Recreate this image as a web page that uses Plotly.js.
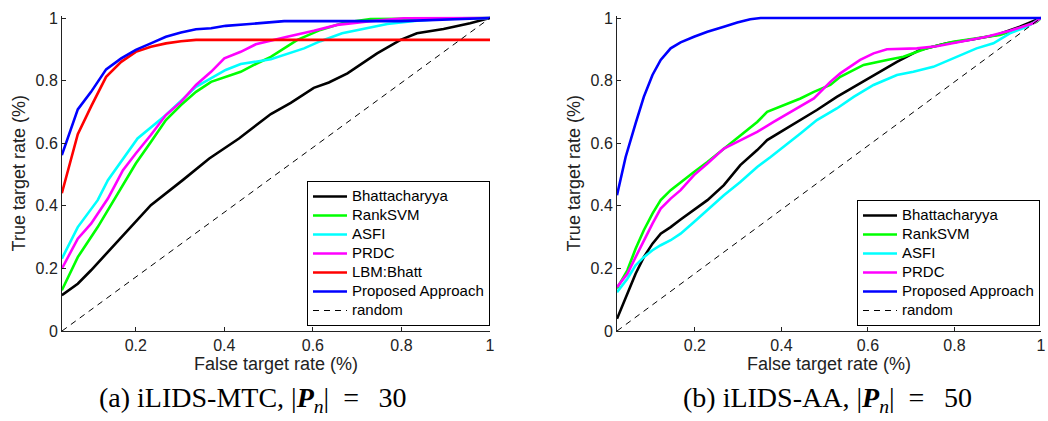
<!DOCTYPE html>
<html>
<head>
<meta charset="utf-8">
<script src="https://cdn.plot.ly/plotly-3.0.1.min.js"></script>
<style>html,body{margin:0;padding:0;background:#fff;}#chart{width:1048px;height:421px;}</style>
</head>
<body>
<div id="chart"></div>
<script>
// ---------- (a) iLIDS-MTC, |Pn| = 30 ----------
const mtcBhattX = [0.033,0.069,0.099,0.137,0.174,0.234,0.306,0.366,0.433,0.505,0.55,0.602,0.636,0.678,0.745,0.798,0.835,0.895,0.955,0.993,1];
const mtcBhattY = [0.114,0.151,0.194,0.252,0.311,0.402,0.482,0.551,0.615,0.693,0.729,0.777,0.794,0.823,0.887,0.93,0.951,0.965,0.983,0.996,1];
const mtcRankX = [0.033,0.069,0.114,0.137,0.167,0.2,0.234,0.268,0.302,0.336,0.37,0.403,0.437,0.471,0.505,0.565,0.617,0.67,0.73,1];
const mtcRankY = [0.13,0.236,0.332,0.386,0.457,0.535,0.604,0.674,0.722,0.764,0.796,0.812,0.828,0.853,0.876,0.93,0.962,0.985,0.997,1];
const mtcAsfiX = [0.033,0.069,0.114,0.137,0.204,0.268,0.336,0.37,0.403,0.437,0.471,0.505,0.58,0.617,0.666,0.723,0.768,0.835,0.895,1];
const mtcAsfiY = [0.231,0.332,0.418,0.482,0.615,0.69,0.78,0.807,0.834,0.853,0.86,0.868,0.903,0.926,0.951,0.967,0.981,0.991,0.997,1];
const mtcPrdcX = [0.033,0.069,0.099,0.114,0.137,0.155,0.171,0.2,0.234,0.268,0.302,0.336,0.37,0.4,0.437,0.471,0.509,0.542,0.602,0.655,0.73,0.805,1];
const mtcPrdcY = [0.199,0.295,0.343,0.375,0.423,0.471,0.514,0.567,0.626,0.69,0.732,0.786,0.828,0.871,0.892,0.916,0.93,0.94,0.959,0.978,0.99,0.999,1];
const mtcLbmX = [0.033,0.069,0.1,0.133,0.167,0.2,0.234,0.268,0.302,0.336,1];
const mtcLbmY = [0.44,0.629,0.72,0.812,0.86,0.892,0.908,0.919,0.926,0.93,0.93];
const mtcPropX = [0.033,0.069,0.099,0.133,0.167,0.2,0.234,0.268,0.302,0.336,0.37,0.403,0.45,0.5,0.535,0.8,0.9,1];
const mtcPropY = [0.562,0.708,0.764,0.836,0.871,0.898,0.919,0.94,0.954,0.964,0.967,0.975,0.98,0.985,0.99,0.99,0.995,1];
const mtcRandX = [1/30, 1];
const mtcRandY = [0, 1];

// ---------- (b) iLIDS-AA, |Pn| = 50 ----------
const aaBhattX = [0.02,0.044,0.063,0.082,0.102,0.121,0.144,0.167,0.198,0.229,0.267,0.305,0.344,0.367,0.405,0.444,0.482,0.528,0.567,0.613,0.667,0.72,0.782,0.844,0.897,0.951,0.99,1];
const aaBhattY = [0.039,0.119,0.183,0.236,0.279,0.311,0.332,0.356,0.386,0.418,0.466,0.53,0.578,0.61,0.642,0.674,0.706,0.748,0.78,0.818,0.86,0.898,0.919,0.932,0.946,0.972,0.994,1];
const aaRankX = [0.02,0.044,0.063,0.082,0.102,0.121,0.144,0.167,0.198,0.229,0.267,0.305,0.344,0.367,0.405,0.444,0.475,0.513,0.536,0.59,0.644,0.682,0.736,0.797,0.859,0.905,0.951,0.99,1];
const aaRankY = [0.136,0.194,0.263,0.322,0.375,0.418,0.45,0.476,0.508,0.54,0.583,0.626,0.668,0.70,0.722,0.743,0.764,0.786,0.812,0.85,0.866,0.876,0.903,0.924,0.937,0.946,0.967,0.988,1];
const aaAsfiX = [0.02,0.044,0.063,0.082,0.102,0.121,0.144,0.167,0.198,0.229,0.267,0.305,0.344,0.375,0.405,0.444,0.482,0.528,0.567,0.613,0.667,0.705,0.751,0.797,0.851,0.89,0.928,0.967,0.997,1];
const aaAsfiY = [0.124,0.167,0.21,0.236,0.258,0.274,0.29,0.311,0.348,0.386,0.434,0.476,0.524,0.556,0.588,0.631,0.674,0.711,0.748,0.786,0.818,0.828,0.844,0.871,0.903,0.919,0.951,0.972,0.996,1];
const aaPrdcX = [0.02,0.044,0.063,0.082,0.102,0.121,0.144,0.167,0.198,0.229,0.267,0.298,0.344,0.382,0.428,0.475,0.513,0.536,0.582,0.613,0.644,0.713,0.759,0.813,0.874,0.928,0.982,1];
const aaPrdcY = [0.14,0.183,0.236,0.29,0.343,0.391,0.423,0.45,0.498,0.535,0.583,0.604,0.636,0.668,0.706,0.743,0.796,0.823,0.866,0.887,0.9,0.903,0.91,0.924,0.94,0.959,0.983,1];
const aaPropX = [0.02,0.04,0.063,0.082,0.102,0.121,0.144,0.167,0.198,0.229,0.267,0.298,0.328,0.352,1];
const aaPropY = [0.434,0.556,0.663,0.748,0.818,0.866,0.903,0.922,0.94,0.956,0.972,0.986,0.996,1,1];
const aaRandX = [0.02, 1];
const aaRandY = [0, 1];

const seriesNames = ['Bhattacharyya','RankSVM','ASFI','PRDC','LBM:Bhatt','Proposed Approach','random'];
const xTicks = [0.2, 0.4, 0.6, 0.8, 1];
const yTicks = [0, 0.2, 0.4, 0.6, 0.8, 1];
const captionA = '(a) iLIDS-MTC, |<b><i>P</i></b><sub><i>n</i></sub>|\u2002=\u2002\u200930';
const captionB = '(b) iLIDS-AA, |<b><i>P</i></b><sub><i>n</i></sub>|\u2002=\u2002\u200950';

const colors = {Bhattacharyya:'#000000', RankSVM:'#00ff00', ASFI:'#00ffff', PRDC:'#ff00ff', 'LBM:Bhatt':'#ff0000', 'Proposed Approach':'#0000ff'};
const legendLabel = name => '<span style="font-size:15px">' + name + '</span>';

function line(x, y, name, xa, ya, leg) {
  return {x:x, y:y, name:legendLabel(name), type:'scatter', mode:'lines', xaxis:xa, yaxis:ya, legend:leg,
          line:{color:colors[name], width:2.6}, hoverinfo:'skip'};
}
function rnd(x, y, xa, ya, leg) {
  return {x:x, y:y, name:legendLabel(seriesNames[6]), type:'scatter', mode:'lines', xaxis:xa, yaxis:ya, legend:leg,
          line:{color:'#000', width:1, dash:'6px,5px'}, hoverinfo:'skip'};
}

const data = [
  line(mtcBhattX, mtcBhattY, seriesNames[0], 'x', 'y', 'legend'),
  line(mtcRankX, mtcRankY, seriesNames[1], 'x', 'y', 'legend'),
  line(mtcAsfiX, mtcAsfiY, seriesNames[2], 'x', 'y', 'legend'),
  line(mtcPrdcX, mtcPrdcY, seriesNames[3], 'x', 'y', 'legend'),
  line(mtcLbmX, mtcLbmY, seriesNames[4], 'x', 'y', 'legend'),
  line(mtcPropX, mtcPropY, seriesNames[5], 'x', 'y', 'legend'),
  rnd(mtcRandX, mtcRandY, 'x', 'y', 'legend'),
  line(aaBhattX, aaBhattY, seriesNames[0], 'x2', 'y2', 'legend2'),
  line(aaRankX, aaRankY, seriesNames[1], 'x2', 'y2', 'legend2'),
  line(aaAsfiX, aaAsfiY, seriesNames[2], 'x2', 'y2', 'legend2'),
  line(aaPrdcX, aaPrdcY, seriesNames[3], 'x2', 'y2', 'legend2'),
  line(aaPropX, aaPropY, seriesNames[5], 'x2', 'y2', 'legend2'),
  rnd(aaRandX, aaRandY, 'x2', 'y2', 'legend2')
];

const W = 1048, H = 421;
const font = 'Liberation Sans, Arial, Helvetica, sans-serif';
const axCommon = {showline:true, linecolor:'#222', linewidth:1, showgrid:false, zeroline:false,
  ticks:'inside', ticklen:4, tickcolor:'#222', tickfont:{family:font, size:16, color:'#222'}, mirror:false};
const yDomain = [1 - 331/H, 1 - 15.5/H];
const titleFont = {family:font, size:18, color:'#222'};
const legFont = {family:font, size:12, color:'#000'};

const layout = {
  width:W, height:H, margin:{l:0, r:0, t:0, b:0}, paper_bgcolor:'#fff', plot_bgcolor:'#fff',
  showlegend:true,
  xaxis: Object.assign({}, axCommon, {domain:[62/W, 490/W], range:[1/30, 1], tickvals:xTicks, ticktext:xTicks.map(String),
    title:{text:'False target rate (%)', font:titleFont, standoff:4}}),
  yaxis: Object.assign({}, axCommon, {domain:yDomain, range:[0, 1.008], tickvals:yTicks, ticktext:yTicks.map(String), anchor:'x',
    title:{text:'True target rate (%)', font:titleFont, standoff:5}}),
  xaxis2: Object.assign({}, axCommon, {domain:[617/W, 1041/W], range:[0.02, 1], tickvals:xTicks, ticktext:xTicks.map(String), anchor:'y2',
    title:{text:'False target rate (%)', font:titleFont, standoff:4}}),
  yaxis2: Object.assign({}, axCommon, {domain:yDomain, range:[0, 1.008], tickvals:yTicks, ticktext:yTicks.map(String), anchor:'x2',
    title:{text:'True target rate (%)', font:titleFont, standoff:5}}),
  legend: {x:490/W, xanchor:'right', y:1-326/H, yanchor:'bottom', bgcolor:'#fff', bordercolor:'#000', borderwidth:1,
    font:legFont, tracegroupgap:0, itemwidth:34},
  legend2: {x:1040/W, xanchor:'right', y:1-326/H, yanchor:'bottom', bgcolor:'#fff', bordercolor:'#000', borderwidth:1,
    font:legFont, tracegroupgap:0, itemwidth:34},
  annotations: [
    {text:captionA, xref:'paper', yref:'paper', x:253/W, y:1-399/H, xanchor:'center', yanchor:'middle', showarrow:false,
     font:{family:'Liberation Serif, Times New Roman, serif', size:28, color:'#000'}},
    {text:captionB, xref:'paper', yref:'paper', x:827/W, y:1-399/H, xanchor:'center', yanchor:'middle', showarrow:false,
     font:{family:'Liberation Serif, Times New Roman, serif', size:28, color:'#000'}}
  ]
};

Plotly.newPlot('chart', data, layout, {staticPlot:true, displayModeBar:false});
</script>
</body>
</html>
